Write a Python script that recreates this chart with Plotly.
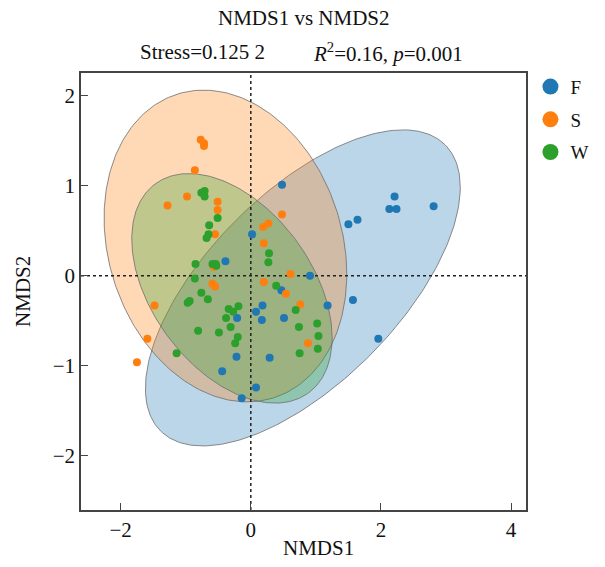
import numpy as np
import plotly.graph_objects as go

groups = ["F", "S", "W"]
colors = {"F": "#1f77b4", "S": "#ff7f0e", "W": "#2ca02c"}

F_x = [0.48, 2.21, 2.13, 2.24, 2.81, 1.64, 1.50, 0.02, -0.39, 0.91, 0.47, 1.57,
       1.18, 0.18, 0.08, 0.17, -0.21, 0.51, 1.96, -0.22, 0.29, -0.44, 0.08, -0.14]
F_y = [1.01, 0.88, 0.74, 0.74, 0.77, 0.62, 0.57, 0.46, 0.16, 0.00, -0.16, -0.27,
       -0.33, -0.33, -0.40, -0.49, -0.47, -0.47, -0.70, -0.90, -0.91, -1.06, -1.24, -1.36]

S_x = [-0.77, -0.72, -0.72, -0.86, -0.98, -1.28, -0.51, -0.51, -0.55, 0.48, 0.27, 0.19,
       0.20, -0.57, 0.61, 0.20, -0.59, -0.55, 0.54, 0.76, -1.48, 0.88, -1.59, -1.75]
S_y = [1.51, 1.47, 1.44, 1.17, 0.88, 0.78, 0.82, 0.73, 0.46, 0.68, 0.58, 0.54,
       0.36, 0.10, 0.02, -0.07, -0.09, -0.12, -0.20, -0.32, -0.33, -0.75, -0.70, -0.96]

W_x = [-0.76, -0.71, -0.71, -0.51, -0.64, -0.65, -0.68, 0.28, 0.27, -0.85, -0.59, -0.54,
       -0.53, -0.86, -0.76, -0.66, -0.97, -0.94, 0.39, -0.34, -0.27, -0.19, -0.38, -0.31,
       -0.20, -0.24, -0.81, -0.49, 0.69, 0.74, 1.02, 1.04, 1.03, 0.75, -1.14]
W_y = [0.92, 0.94, 0.88, 0.64, 0.56, 0.46, 0.42, 0.25, 0.15, 0.13, 0.13, 0.13,
       0.11, -0.03, -0.19, -0.26, -0.30, -0.28, -0.11, -0.37, -0.40, -0.34, -0.47, -0.57,
       -0.68, -0.75, -0.61, -0.63, -0.38, -0.57, -0.53, -0.67, -0.81, -0.86, -0.86]

points = {"F": (F_x, F_y), "S": (S_x, S_y), "W": (W_x, W_y)}

# ellipse parameters: centre x, centre y, half-extent x, half-extent y, correlation
ell_cx = {"F": 0.80, "S": -0.39, "W": -0.29}
ell_cy = {"F": -0.135, "S": 0.33, "W": -0.14}
ell_sx = {"F": 2.42, "S": 1.865, "W": 1.54}
ell_sy = {"F": 1.754, "S": 1.73, "W": 1.274}
ell_rho = {"F": 0.636, "S": -0.18, "W": -0.43}

x_ticks = [-2, 0, 2, 4]
y_ticks = [-2, -1, 0, 1, 2]
x_range = [-2.61, 4.23]
y_range = [-2.6, 2.25]

font_family = "Liberation Serif, Times New Roman, serif"

def hex_rgba(h, a):
    h = h.lstrip("#")
    return "rgba(%d,%d,%d,%.2f)" % (int(h[0:2], 16), int(h[2:4], 16), int(h[4:6], 16), a)

fig = go.Figure()

t = np.linspace(0, 2 * np.pi, 300)
for g in groups:
    sx, sy, rho = ell_sx[g], ell_sy[g], ell_rho[g]
    l21 = rho * sy
    l22 = np.sqrt(sy ** 2 - l21 ** 2)
    ex = ell_cx[g] + sx * np.cos(t)
    ey = ell_cy[g] + l21 * np.cos(t) + l22 * np.sin(t)
    fig.add_trace(go.Scatter(x=ex, y=ey, mode="lines", fill="toself",
                             fillcolor=hex_rgba(colors[g], 0.3),
                             line=dict(color="rgba(110,110,110,0.8)", width=1),
                             showlegend=False, hoverinfo="skip"))

# zero reference lines
fig.add_trace(go.Scatter(x=[0, 0], y=y_range, mode="lines",
                         line=dict(color="#222", width=1.5, dash="dot"),
                         showlegend=False, hoverinfo="skip"))
fig.add_trace(go.Scatter(x=x_range, y=[0, 0], mode="lines",
                         line=dict(color="#222", width=1.5, dash="dot"),
                         showlegend=False, hoverinfo="skip"))

for g in groups:
    px, py = points[g]
    fig.add_trace(go.Scatter(x=px, y=py, mode="markers", name=g, legendgroup=g,
                             showlegend=False,
                             marker=dict(color=colors[g], size=8, line=dict(width=0))))
    # legend entry with a larger symbol
    fig.add_trace(go.Scatter(x=[None], y=[None], mode="markers", name=g, legendgroup=g,
                             marker=dict(color=colors[g], size=17, line=dict(width=0))))

axis_common = dict(showgrid=False, zeroline=False, showline=True, mirror=True,
                   linecolor="#444", linewidth=1.5, ticks="inside", ticklen=7,
                   tickwidth=1.2, tickcolor="#444",
                   tickfont=dict(family=font_family, size=21, color="#111"))

sub_y = 1.0 + (73 - 52) / 437

fig.update_layout(
    width=605, height=567,
    margin=dict(l=81, r=76, t=73, b=57),
    paper_bgcolor="white", plot_bgcolor="white",
    font=dict(family=font_family, color="#111"),
    xaxis=dict(range=x_range, tickvals=x_ticks, **axis_common),
    yaxis=dict(range=y_range, tickvals=y_ticks, **axis_common),
    legend=dict(x=1.01, y=1.012, xanchor="left", yanchor="top",
                font=dict(family=font_family, size=19, color="#111"),
                tracegroupgap=5, itemsizing="trace", bgcolor="rgba(0,0,0,0)"),
    annotations=[
        dict(text="NMDS1 vs NMDS2", x=0.5, y=1.0 + (73 - 18) / 437, xref="paper", yref="paper",
             showarrow=False, font=dict(size=21), xanchor="center", yanchor="middle"),
        dict(text="Stress=0.125 2", x=(203 - 81) / 448, y=sub_y, xref="paper", yref="paper",
             showarrow=False, font=dict(size=21), xanchor="center", yanchor="middle"),
        dict(text="<i>R</i><sup>2</sup>=0.16, <i>p</i>=0.001", x=(390 - 81) / 448, y=sub_y,
             xref="paper", yref="paper", showarrow=False, font=dict(size=21),
             xanchor="center", yanchor="middle"),
        dict(text="NMDS1", x=(320 - 81) / 448, y=-(548 - 510) / 437, xref="paper", yref="paper",
             showarrow=False, font=dict(size=21), xanchor="center", yanchor="middle"),
        dict(text="NMDS2", x=-(81 - 22) / 448, y=0.5, xref="paper", yref="paper",
             showarrow=False, font=dict(size=21), textangle=-90,
             xanchor="center", yanchor="middle"),
    ],
)

fig.write_html("out.html")
